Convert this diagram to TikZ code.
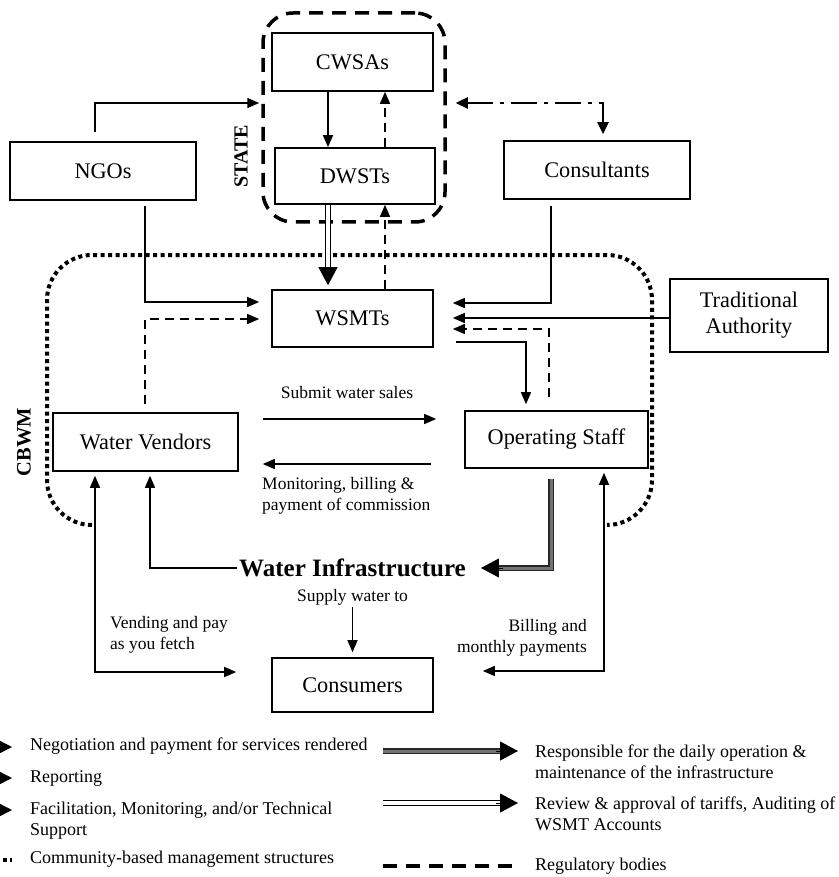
\documentclass[tikz,border=0pt]{standalone}
\usepackage{fontspec}
\setmainfont{Liberation Serif}
\usetikzlibrary{arrows.meta,calc}
\begin{document}
\begin{tikzpicture}[x=1pt,y=-1pt,
  box/.style={draw, line width=1.6pt, inner sep=0pt, font=\fontsize{22.3}{26}\selectfont, align=center},
  arr/.style={line width=1.4pt, -{Triangle[length=12pt,width=10pt]}},
  darr/.style={line width=1.4pt, {Triangle[length=12pt,width=10pt]}-{Triangle[length=12pt,width=10pt]}},
  rep/.style={arr, dash pattern=on 9pt off 6pt},
  lbl/.style={font=\fontsize{17.5}{20.5}\selectfont, inner sep=0pt},
  leg/.style={font=\fontsize{18}{21.5}\selectfont, inner sep=0pt, anchor=west, align=left},
  regul/.style={line width=3.5pt, dash pattern=on 14pt off 9pt},
  cbm/.style={line width=4pt, dash pattern=on 4pt off 3.5pt},
  resp/.style={line width=1.6pt, draw=black!85, double=black!55, double distance=3pt},
  revw/.style={line width=1.5pt, draw=black, double=white, double distance=3.5pt},
  bigtip/.style={line width=1pt, -{Triangle[length=18pt,width=19pt]}},
  facil/.style={line width=2.4pt, dash pattern=on 26pt off 7pt on 4pt off 7pt},
]
\useasboundingbox (0,0) rectangle (838,877);
\clip (0,0) rectangle (838,877);

% helper coordinates
\coordinate (x95) at (95,0);
\coordinate (x145) at (145,0);
\coordinate (x150) at (150,0);
\coordinate (x328) at (328,0);
\coordinate (x385) at (385,0);
\coordinate (x526) at (526,0);
\coordinate (x549) at (549,0);
\coordinate (x551) at (551,0);
\coordinate (x603) at (603,0);
\coordinate (x604) at (604,0);
\coordinate (y103) at (0,103);
\coordinate (y302) at (0,302);
\coordinate (y303) at (0,303);
\coordinate (y318) at (0,318);
\coordinate (y319) at (0,319);
\coordinate (y329) at (0,329);
\coordinate (y342) at (0,342);
\coordinate (y419) at (0,419);
\coordinate (y464) at (0,464);
\coordinate (y671) at (0,671);
\coordinate (y672) at (0,672);

% group outlines
\node[draw, regul, rounded corners=30pt, minimum width=182pt, minimum height=209pt] (state) at (354,117.5) {};
\draw[cbm, rounded corners=45pt] (92,525) -- (47,525) -- (47,255) -- (652,255) -- (652,525) -- (607,525);
\node[font=\bfseries\fontsize{20}{24}\selectfont, rotate=90] (lstate) at (241,156) {STATE};
\node[font=\bfseries\fontsize{20.5}{24}\selectfont, rotate=90] (lcbwm) at (24,442) {CBWM};

% boxes
\node[box, minimum width=161pt, minimum height=58pt] (cwsa) at (352.5,62) {CWSAs};
\node[box, minimum width=160pt, minimum height=56pt] (dwst) at (355,176) {DWSTs};
\node[box, minimum width=186pt, minimum height=58pt] (ngo) at (103,171) {NGOs};
\node[box, minimum width=186pt, minimum height=58pt] (cons) at (597,170) {Consultants};
\node[box, minimum width=161pt, minimum height=57pt] (wsmt) at (352.5,318.5) {WSMTs};
\node[box, minimum width=158pt, minimum height=73pt] (ta) at (749,315.5) {Traditional\\Authority};
\node[box, minimum width=185pt, minimum height=58pt] (wv) at (145.5,442) {Water Vendors};
\node[box, minimum width=183pt, minimum height=57pt] (os) at (556.5,439.5) {Operating Staff};
\node[box, minimum width=161pt, minimum height=54pt] (con) at (352.5,685) {Consumers};
\node[font=\bfseries\fontsize{25}{28}\selectfont, inner sep=2pt] (wi) at (352.5,568) {Water Infrastructure};

% labels
\node[lbl] (lsub) at (347,393) {Submit water sales};
\node[lbl, anchor=north west, align=left] (lmon) at (262,477.5) {Monitoring, billing \&\\payment of commission};
\node[lbl] (lsup) at (352.5,597) {Supply water to};
\node[lbl, anchor=north west, align=left] (lvend) at (110,616.5) {Vending and pay\\as you fetch};
\node[lbl, anchor=north east, align=right] (lbill) at (587,619.5) {Billing and\\monthly payments};

% connectors in STATE
\draw[arr] (cwsa.south -| x328) -- (dwst.north -| x328);
\draw[rep] (dwst.north -| x385) -- (cwsa.south -| x385);
\draw[revw, shorten >=18pt] (dwst.south -| x328) -- (wsmt.north -| x328);
\draw[bigtip, shorten >=4pt] ($(wsmt.north -| x328)+(0,-22)$) -- (wsmt.north -| x328);
\draw[rep] (wsmt.north -| x385) -- (dwst.south -| x385);

% NGO and consultants
\draw[arr, shorten <=9pt, shorten >=2pt] (ngo.north -| x95) |- (state.west |- y103);
\draw[facil, {Triangle[length=12pt,width=11pt]}-{Triangle[length=12pt,width=11pt]}, shorten <=9pt, shorten >=6pt] (state.east |- y103) -| (cons.north -| x603);
\draw[arr, shorten <=6pt, shorten >=19pt] (cons.south -| x551) |- (wsmt.east |- y303);
\draw[arr, shorten >=19pt] (ta.west |- y318) -- (wsmt.east |- y318);
\draw[rep, shorten <=13pt, shorten >=19pt] (os.north -| x549) |- (wsmt.east |- y329);
\draw[arr, shorten <=22pt, shorten >=6pt] (wsmt.east |- y342) -| (os.north -| x526);
\draw[arr, shorten <=5pt, shorten >=12pt] (ngo.south -| x145) |- (wsmt.west |- y302);
\draw[rep, shorten <=8pt, shorten >=12pt] (wv.north -| x145) |- (wsmt.west |- y319);

% vendors / staff
\draw[arr, shorten <=24pt, shorten >=28pt] (wv.east |- y419) -- (os.west |- y419);
\draw[arr, shorten <=33pt, shorten >=24pt] (os.west |- y464) -- (wv.east |- y464);
\draw[arr, shorten >=4pt] (wi.west) -| (wv.south -| x150);
\draw[darr, shorten <=4pt, shorten >=35pt] (wv.south -| x95) |- (con.west |- y672);
\draw[arr, shorten <=2pt, shorten >=5pt] (lsup.south) -- (con.north);
\coordinate (witip) at ($(wi.east)+(13,0)$);
\draw[resp, shorten <=10pt, shorten >=16pt] (os.south -| x551) |- (witip);
\draw[bigtip] ($(witip)+(22,0)$) -- (witip);
\draw[darr, shorten <=4pt, shorten >=49pt] (os.south -| x604) |- (con.east |- y671);

% legend
\coordinate (la1) at (-30,747);  \coordinate (la2) at (12,747);
\coordinate (lb1) at (-30,778);  \coordinate (lb2) at (12,778);
\coordinate (lc1) at (-30,810);  \coordinate (lc2) at (12,810);
\coordinate (ld1) at (-20,860);  \coordinate (ld2) at (12,860);
\draw[line width=1.3pt, -{Triangle[length=12pt,width=12pt]}] (la1) -- (la2);
\draw[line width=1.3pt, dash pattern=on 9pt off 6pt, -{Triangle[length=12pt,width=12pt]}] (lb1) -- (lb2);
\draw[line width=1.3pt, -{Triangle[length=12pt,width=12pt]}] (lc1) -- (lc2);
\draw[cbm] (ld1) -- (ld2);
\node[leg] (l1) at (30,746) {Negotiation and payment for services rendered};
\node[leg] (l2) at (30,778) {Reporting};
\node[leg, anchor=north west] (l3) at (30,801.5) {Facilitation, Monitoring, and/or Technical\\Support};
\node[leg] (l4) at (30,859) {Community-based management structures};

\coordinate (le1) at (383,751);  \coordinate (le2) at (518,751);
\coordinate (lf1) at (383,803);  \coordinate (lf2) at (518,803);
\coordinate (lg1) at (383,866);  \coordinate (lg2) at (520,866);
\draw[resp, shorten >=16pt] (le1) -- (le2);
\draw[bigtip] ($(le2)+(-22,0)$) -- (le2);
\draw[revw, shorten >=16pt] (lf1) -- (lf2);
\draw[bigtip] ($(lf2)+(-22,0)$) -- (lf2);
\draw[regul] (lg1) -- (lg2);
\node[leg, anchor=north west] (l5) at (535,744.5) {Responsible for the daily operation \&\\maintenance of the infrastructure};
\node[leg, anchor=north west] (l6) at (535,796.5) {Review \& approval of tariffs, Auditing of\\WSMT Accounts};
\node[leg] (l7) at (535,866) {Regulatory bodies};
\end{tikzpicture}
\end{document}
